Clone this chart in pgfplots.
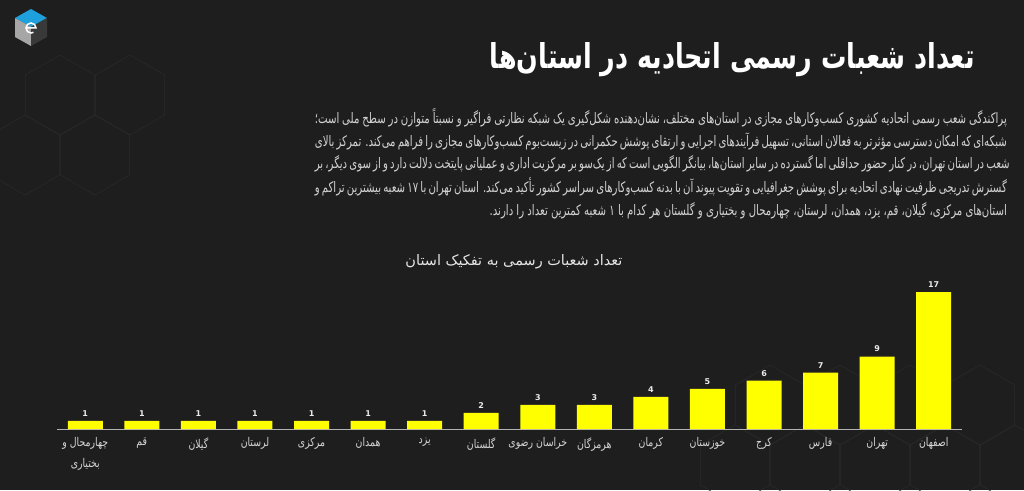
\documentclass[border=0pt]{standalone}
\usepackage{pgfplots}
\pgfplotsset{compat=1.18}
\usepackage{fontspec}
\TeXXeTstate=1
\newfontfamily\fa[Script=Arabic]{DejaVu Sans}
\newfontfamily\fapara[Script=Arabic,FakeStretch=0.7]{DejaVu Sans}
\newfontfamily\fatick[Script=Arabic,FakeStretch=0.78]{DejaVu Sans}
\newfontfamily\numfont{DejaVu Sans}
\definecolor{bg}{HTML}{1E1E1E}
\definecolor{hexc}{HTML}{292929}
\definecolor{paratext}{HTML}{D2D2D2}
\definecolor{ticklbl}{HTML}{D6D6D6}
\definecolor{axgray}{HTML}{B4B4B4}
\definecolor{baryellow}{HTML}{FFFF00}
\definecolor{logoblue}{HTML}{1EA0DC}
\pgfplotstableread{
x y
0 1
1 1
2 1
3 1
4 1
5 1
6 1
7 2
8 3
9 3
10 4
11 5
12 6
13 7
14 9
15 17
}\branches
\newcommand{\paraline}[2]{\node[anchor=east,inner sep=0pt,text=paratext] at (1007,#1) {\fapara\fontsize{14.5}{16}\selectfont\hbox to 692pt{#2}};}
\begin{document}
\begin{tikzpicture}[x=1pt,y=1pt]
\useasboundingbox (0,0) rectangle (1024,490);
\fill[bg] (0,0) rectangle (1024,490);
% faint hexagon pattern
\foreach \cx/\cy in {60/395, 130/395, 95/335, 25/335}{
  \draw[hexc,line width=0.6pt,shift={(\cx,\cy)}] (30:40) -- (90:40) -- (150:40) -- (210:40) -- (270:40) -- (330:40) -- cycle;
}
\foreach \cx/\cy in {735/25, 805/25, 875/25, 945/25, 1015/25, 770/85, 840/85, 910/85, 980/85}{
  \draw[hexc,line width=0.6pt,shift={(\cx,\cy)}] (30:40) -- (90:40) -- (150:40) -- (210:40) -- (270:40) -- (330:40) -- cycle;
}
% logo
\fill[logoblue] (31,481) -- (47,472) -- (31,463) -- (15,472) -- cycle;
\fill[gray!70] (15,472) -- (31,463) -- (31,444) -- (15,453) -- cycle;
\fill[gray!45!black] (31,463) -- (47,472) -- (47,453) -- (31,444) -- cycle;
\draw[white,line width=1.5pt] (26,462) -- (36,462) arc[start angle=0,end angle=300,radius=5];
% title
\node[anchor=east,inner sep=0pt,text=white] at (975,430) {\resizebox{485pt}{26pt}{\fa\bfseries\beginR تعداد شعبات رسمی اتحادیه در استان‌ها\endR}};
% paragraph
\paraline{372}{\beginR پراکندگی شعب رسمی اتحادیه کشوری کسب‌وکارهای مجازی در استان‌های مختلف، نشان‌دهنده شکل‌گیری یک شبکه نظارتی فراگیر و نسبتاً متوازن در سطح ملی است؛\endR}
\paraline{349}{\beginR شبکه‌ای که امکان دسترسی مؤثرتر به فعالان استانی، تسهیل فرآیندهای اجرایی و ارتقای پوشش حکمرانی در زیست‌بوم کسب‌وکارهای مجازی را فراهم می‌کند. تمرکز بالای\endR}
\paraline{326}{\beginR شعب در استان تهران، در کنار حضور حداقلی اما گسترده در سایر استان‌ها، بیانگر الگویی است که از یک‌سو بر مرکزیت اداری و عملیاتی پایتخت دلالت دارد و از سوی دیگر، بر\endR}
\paraline{303}{\beginR گسترش تدریجی ظرفیت نهادی اتحادیه برای پوشش جغرافیایی و تقویت پیوند آن با بدنه کسب‌وکارهای سراسر کشور تأکید می‌کند. استان تهران با ۱۷ شعبه بیشترین تراکم و\endR}
\node[anchor=east,inner sep=0pt,text=paratext] at (1007,279) {\fapara\fontsize{14.5}{16}\selectfont\beginR استان‌های مرکزی، گیلان، قم، یزد، همدان، لرستان، چهارمحال و بختیاری و گلستان هر کدام با ۱ شعبه کمترین تعداد را دارند.\endR};
% chart title
\node[inner sep=0pt,text=white!90!black] at (514,228) {\resizebox{217pt}{!}{\fa\beginR تعداد شعبات رسمی به تفکیک استان\endR}};
\begin{axis}[
  at={(57pt,61pt)}, anchor=south west, scale only axis,
  width=905pt, height=161pt,
  xmin=-0.5, xmax=15.5, ymin=0, ymax=20,
  axis x line=bottom, axis y line=none,
  x axis line style={-, draw=axgray, line width=0.8pt},
  ytick=\empty,
  xtick={0,...,15},
  xticklabels={{\beginR چهارمحال و\endR\\\beginR بختیاری\endR},\beginR قم\endR,\beginR گیلان\endR,\beginR لرستان\endR,\beginR مرکزی\endR,\beginR همدان\endR,\beginR یزد\endR,\beginR گلستان\endR,\beginR خراسان رضوی\endR,\beginR هرمزگان\endR,\beginR کرمان\endR,\beginR خوزستان\endR,\beginR کرج\endR,\beginR فارس\endR,\beginR تهران\endR,\beginR اصفهان\endR},
  major tick length=0pt,
  xticklabel style={font=\fatick\fontsize{12}{21}\selectfont, text=ticklbl, align=center, anchor=north, yshift=-5pt},
  ybar, bar width=35pt, bar shift=0pt,
  nodes near coords,
  every node near coord/.append style={font=\numfont\bfseries\fontsize{8}{9}\selectfont, text=white!92!black, yshift=1pt},
  /pgf/number format/assume math mode=true,
  clip=false,
]
\addplot[fill=baryellow, draw=none] table[x=x,y=y] {\branches};
\end{axis}
\end{tikzpicture}
\end{document}
